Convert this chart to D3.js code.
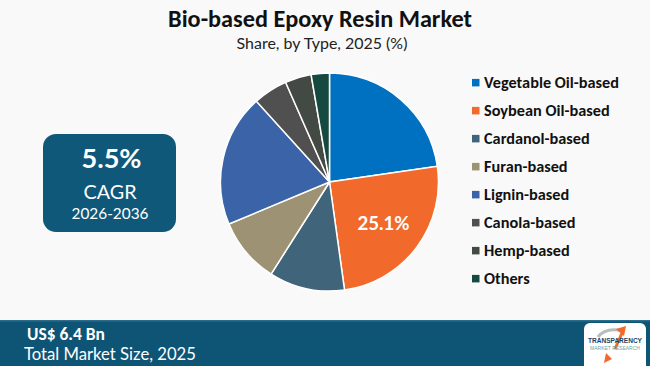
<!DOCTYPE html>
<html><head><meta charset="utf-8">
<script src="https://cdn.jsdelivr.net/npm/d3@7"></script>
<style>html,body{margin:0;padding:0;background:#f9f9f9;}svg{display:block;}</style>
</head><body>
<svg id="chart" width="650" height="366"></svg>
<script>
const categories = ["Vegetable Oil-based","Soybean Oil-based","Cardanol-based","Furan-based","Lignin-based","Canola-based","Hemp-based","Others"];
const shares = [22.7, 25.1, 11.2, 9.7, 19.6, 5.1, 3.9, 2.7];
const colors = ["#0070C0","#F26A2B","#40647A","#9E9274","#3A63A8","#505050","#434943","#164A40"];
const labelShown = [false, true, false, false, false, false, false, false];
const title = "Bio-based Epoxy Resin Market";
const subtitle = "Share, by Type, 2025 (%)";
const cagrValue = "5.5%", cagrLabel = "CAGR", cagrPeriod = "2026-2036";
const marketValue = "US$ 6.4 Bn", marketLabel = "Total Market Size, 2025";

const svg = d3.select("#chart");
const W = 650, H = 366;
svg.append("rect").attr("width", W).attr("height", H).attr("fill", "#f9f9f9");

function fit(sel, target) {
  const fs = parseFloat(sel.attr("font-size"));
  const w = sel.node().getComputedTextLength();
  if (w > 0) sel.attr("font-size", (fs * target / w).toFixed(2));
  return sel;
}
const gothic = "'Century Gothic','URW Gothic','Lato','Open Sans',sans-serif";
const calibri = "Carlito,Calibri,'Lato','Open Sans',sans-serif";

// Title
fit(svg.append("text").attr("x", 320).attr("y", 27).attr("text-anchor", "middle")
  .attr("font-family", calibri).attr("font-weight", "bold").attr("font-size", 21)
  .attr("fill", "#111").text(title), 304);
fit(svg.append("text").attr("x", 322).attr("y", 49).attr("text-anchor", "middle")
  .attr("font-family", gothic).attr("font-size", 14)
  .attr("fill", "#222").text(subtitle), 171);

// Pie
const cx = 329.5, cy = 182, R = 109;
const pie = d3.pie().sort(null).value(d => d)(shares);
const arc = d3.arc().innerRadius(0).outerRadius(R);
const g = svg.append("g").attr("transform", `translate(${cx},${cy})`);
g.selectAll("path").data(pie).join("path")
  .attr("d", arc).attr("fill", (d, i) => colors[i])
  .attr("stroke", "#ffffff").attr("stroke-width", 1.5);
const labelArc = d3.arc().innerRadius(R * 0.62).outerRadius(R * 0.62);
pie.forEach((d, i) => {
  if (!labelShown[i]) return;
  const [lx, ly] = labelArc.centroid(d);
  fit(g.append("text").attr("x", lx).attr("y", ly + 7).attr("text-anchor", "middle")
    .attr("font-family", gothic).attr("font-weight", "bold").attr("font-size", 20)
    .attr("fill", "#fff").text(shares[i].toFixed(1) + "%"), 52);
});

// Legend
const lg = svg.append("g");
const legY = d3.scalePoint().domain(categories).range([82.7, 278.7]);
categories.forEach((c, i) => {
  const y = legY(c);
  lg.append("rect").attr("x", 472).attr("y", y - 3.8).attr("width", 7.5).attr("height", 7.5).attr("fill", colors[i]);
  const t = lg.append("text").attr("x", 484).attr("y", y + 5).attr("font-family", calibri)
    .attr("font-weight", "bold").attr("font-size", 14.5).attr("fill", "#111").text(c);
  if (i === 0) { fit(t, 135); lg.attr("data-fs", t.attr("font-size")); }
  else t.attr("font-size", lg.attr("data-fs"));
});

// CAGR box
svg.append("rect").attr("x", 43).attr("y", 134).attr("width", 133).attr("height", 98)
  .attr("rx", 13).attr("fill", "#10587A");
fit(svg.append("text").attr("x", 111.5).attr("y", 168).attr("text-anchor", "middle")
  .attr("font-family", gothic).attr("font-weight", "bold").attr("font-size", 26)
  .attr("fill", "#fff").text(cagrValue), 60);
fit(svg.append("text").attr("x", 110).attr("y", 199).attr("text-anchor", "middle")
  .attr("font-family", gothic).attr("font-size", 17)
  .attr("fill", "#fff").text(cagrLabel), 53);
fit(svg.append("text").attr("x", 110).attr("y", 219).attr("text-anchor", "middle")
  .attr("font-family", gothic).attr("font-size", 15)
  .attr("fill", "#fff").text(cagrPeriod), 77);

// Bottom bar
svg.append("rect").attr("x", 0).attr("y", 320).attr("width", W).attr("height", 46).attr("fill", "#0E5575");
svg.append("rect").attr("x", 0).attr("y", 320).attr("width", W).attr("height", 1.5).attr("fill", "#2a6d8c");
fit(svg.append("text").attr("x", 27).attr("y", 340).attr("font-family", calibri)
  .attr("font-weight", "bold").attr("font-size", 16).attr("fill", "#fff").text(marketValue), 78);
fit(svg.append("text").attr("x", 24).attr("y", 360).attr("font-family", gothic)
  .attr("font-size", 16).attr("fill", "#fff").text(marketLabel), 172);

// Logo
const logo = svg.append("g").attr("transform", "translate(584,323)");
logo.append("rect").attr("width", 62).attr("height", 50).attr("rx", 6).attr("fill", "#ffffff");
logo.append("path").attr("d", "M14,14 Q22,4 38,8").attr("fill", "none").attr("stroke", "#b9bcbf").attr("stroke-width", 3);
logo.append("path").attr("d", "M32,6 L42,3 L40,13 Z").attr("fill", "#F26A2B");
logo.append("path").attr("d", "M38,10 L31,26").attr("stroke", "#F26A2B").attr("stroke-width", 3);
fit(logo.append("text").attr("x", 31).attr("y", 20).attr("text-anchor", "middle")
  .attr("font-family", "'Liberation Sans',Arial,sans-serif").attr("font-weight", "bold")
  .attr("font-size", 6).attr("fill", "#1d3f63").text("TRANSPARENCY"), 54);
fit(logo.append("text").attr("x", 31).attr("y", 27).attr("text-anchor", "middle")
  .attr("font-family", "'Liberation Sans',Arial,sans-serif")
  .attr("font-size", 5).attr("fill", "#6fa3a3").text("MARKET RESEARCH"), 50);
logo.append("path").attr("d", "M22,30 L20,40 L28,36 Z").attr("fill", "#F26A2B");
</script>
</body></html>
